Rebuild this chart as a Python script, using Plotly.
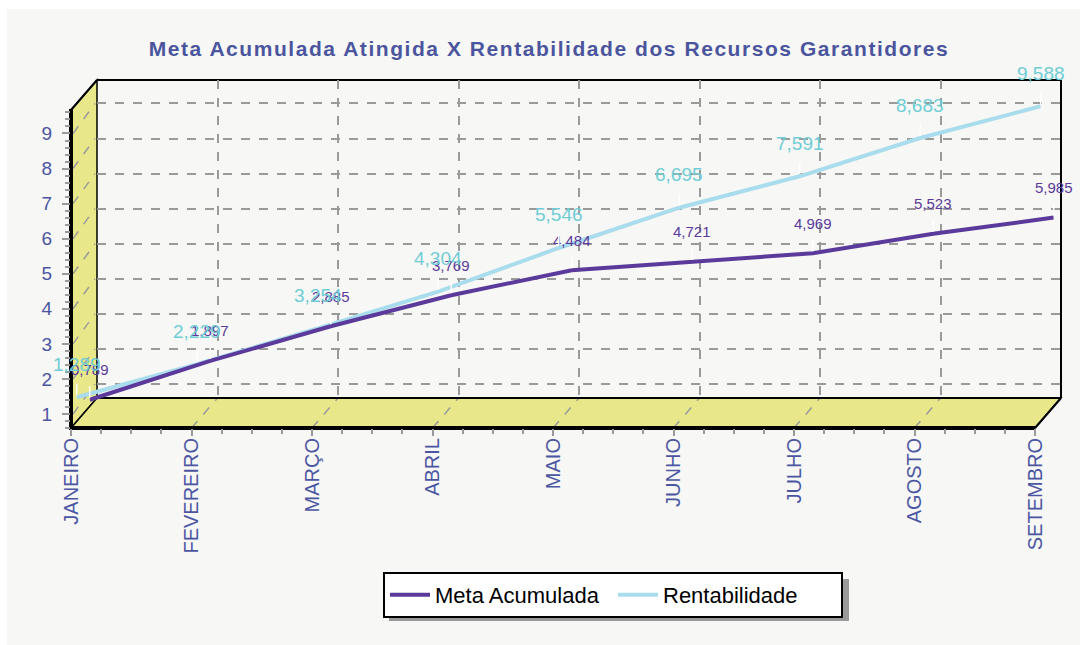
import plotly.graph_objects as go

months = ["JANEIRO", "FEVEREIRO", "MARÇO", "ABRIL", "MAIO", "JUNHO", "JULHO", "AGOSTO", "SETEMBRO"]
meta_acumulada = [0.789, 1.897, 2.885, 3.769, 4.484, 4.721, 4.969, 5.523, 5.985]
rentabilidade = [1.289, 2.229, 3.254, 4.304, 5.546, 6.695, 7.591, 8.683, 9.588]
y_ticks = [1, 2, 3, 4, 5, 6, 7, 8, 9]

W, H = 1080, 645
FONT = "Liberation Sans, Arial, sans-serif"
AXCOL = "#4b56a2"
PURPLE = "#5b3a9b"
LBLUE = "#a9dcec"
LBLUE_TXT = "#6fcdd6"
YELLOW = "#e8e88b"
PANEL = "#f7f7f5"

# front plane (pixels)
FX0, FX1, FY0, FY1 = 71, 1035, 110, 428
DX, DY = 26, -30  # depth offset to back plane
YMIN, YMAX = 0.6, 9.67


def px(x):
    return x / W


def py(y):
    return 1 - y / H


def dom(depth):
    return dict(
        x=[px(FX0 + DX * depth), px(FX1 + DX * depth)],
        y=[py(FY1 + DY * depth), py(FY0 + DY * depth)],
    )


def yf(v):
    return FY1 - (v - YMIN) / (YMAX - YMIN) * (FY1 - FY0)


def xf(k):
    return FX0 + k / 8 * (FX1 - FX0)


fig = go.Figure()

# invisible traces to anchor axes
fig.add_trace(go.Scatter(x=[0, 8], y=[1, 9], xaxis="x", yaxis="y", mode="markers",
                         marker=dict(opacity=0), hoverinfo="skip", showlegend=False))
fig.add_trace(go.Scatter(x=[0, 8], y=[1, 9], xaxis="x2", yaxis="y2", mode="markers",
                         marker=dict(opacity=0), hoverinfo="skip", showlegend=False))

fig.add_trace(go.Scatter(x=months, y=meta_acumulada, xaxis="x4", yaxis="y4", mode="lines",
                         line=dict(color=PURPLE, width=4), name="Meta Acumulada", hoverinfo="skip"))
fig.add_trace(go.Scatter(x=months, y=rentabilidade, xaxis="x3", yaxis="y3", mode="lines",
                         line=dict(color=LBLUE, width=4), name="Rentabilidade", hoverinfo="skip"))

annotations = []
for m, v in zip(months, meta_acumulada):
    annotations.append(dict(x=m, y=v, xref="x4", yref="y4", text="", showarrow=True, ax=0, ay=-15,
                            arrowhead=0, arrowwidth=1.5, arrowcolor="white", standoff=2))
    annotations.append(dict(x=m, y=v, xref="x4", yref="y4", text=f"{v:.3f}".replace(".", ","),
                            showarrow=False, yshift=30, font=dict(family=FONT, size=15, color=PURPLE)))
for m, v in zip(months, rentabilidade):
    annotations.append(dict(x=m, y=v, xref="x3", yref="y3", text="", showarrow=True, ax=0, ay=-15,
                            arrowhead=0, arrowwidth=1.5, arrowcolor="white", standoff=2))
    annotations.append(dict(x=m, y=v, xref="x3", yref="y3", text=f"{v:.3f}".replace(".", ","),
                            showarrow=False, yshift=33, font=dict(family=FONT, size=19, color=LBLUE_TXT)))

shapes = []
# panel background
shapes.append(dict(type="rect", xref="paper", yref="paper", x0=px(7), x1=1, y0=0, y1=py(9),
                   fillcolor=PANEL, line=dict(width=0), layer="below"))


def path(pts):
    return "M " + " L ".join(f"{px(a)},{py(b)}" for a, b in pts) + " Z"


# left wall
shapes.append(dict(type="path", xref="paper", yref="paper",
                   path=path([(FX0, FY0), (FX0 + DX, FY0 + DY), (FX0 + DX, FY1 + DY), (FX0, FY1)]),
                   fillcolor=YELLOW, line=dict(color="black", width=1.5), layer="below"))
# floor
shapes.append(dict(type="path", xref="paper", yref="paper",
                   path=path([(FX0, FY1), (FX0 + DX, FY1 + DY), (FX1 + DX, FY1 + DY), (FX1, FY1)]),
                   fillcolor=YELLOW, line=dict(color="black", width=1.5), layer="below"))


def seg(x0, y0, x1, y1, color="black", width=2, dash="solid"):
    shapes.append(dict(type="line", xref="paper", yref="paper", x0=px(x0), y0=py(y0), x1=px(x1), y1=py(y1),
                       line=dict(color=color, width=width, dash=dash), layer="below"))


# dashed diagonals on wall and floor
for v in y_ticks:
    seg(FX0 + 2, yf(v), FX0 + DX - 2, yf(v) + DY, color="#9a9a9a", width=1.5, dash="dash")
for k in range(1, 9):
    seg(xf(k), FY1, xf(k) + DX, FY1 + DY, color="#9a9a9a", width=1.5, dash="dash")

# edges
seg(FX0 + DX, FY0 + DY, FX1 + DX, FY0 + DY, width=2)   # back top
seg(FX1 + DX, FY0 + DY, FX1 + DX, FY1 + DY, width=2)   # back right
seg(FX0 + DX, FY1 + DY, FX1 + DX, FY1 + DY, width=2)   # floor back edge
seg(FX1, FY1, FX1 + DX, FY1 + DY, width=2)             # floor right diagonal
seg(FX0, FY0, FX0 + DX, FY0 + DY, width=2)             # wall top diagonal
seg(FX0, FY0 - 1, FX0, FY1 + 2, width=4)               # wall front edge
seg(FX0 - 1, FY1, FX1, FY1, width=4)                   # floor front edge

# legend shadow
shapes.append(dict(type="rect", xref="paper", yref="paper", x0=px(389), x1=px(849), y0=py(621), y1=py(579),
                   fillcolor="#9a9a9a", line=dict(width=0), layer="below"))

axis_common = dict(showline=False, zeroline=False, automargin=False)
d_back, d_front, d_blue, d_purple = dom(1), dom(0), dom(0.22), dom(0.72)

title_txt = "<span style='letter-spacing:1.55px'>Meta Acumulada Atingida X Rentabilidade dos Recursos Garantidores</span>"

fig.update_layout(
    width=W, height=H, autosize=False,
    margin=dict(l=0, r=0, t=0, b=0, pad=0, autoexpand=False),
    paper_bgcolor="white", plot_bgcolor="rgba(0,0,0,0)",
    font=dict(family=FONT),
    title=dict(text=title_txt,
               x=px(549), y=py(49), xanchor="center", yanchor="middle",
               font=dict(family=FONT, size=21, color="#4a559e", weight="bold")),
    xaxis=dict(domain=d_back["x"], range=[0, 8], dtick=1, showgrid=True, gridcolor="#9a9a9a",
               griddash="dash", gridwidth=1.5, showticklabels=False, ticks="", anchor="y", **axis_common),
    yaxis=dict(domain=d_back["y"], range=[YMIN, YMAX], tick0=1, dtick=1, showgrid=True, gridcolor="#9a9a9a",
               griddash="dash", gridwidth=1.5, showticklabels=False, ticks="", anchor="x", **axis_common),
    xaxis2=dict(domain=d_front["x"], range=[0, 8], tickvals=list(range(len(months))), ticktext=months,
                tickangle=-90, ticks="outside", ticklen=7, tickwidth=1.5, tickcolor="#9a9a9a",
                ticklabelstandoff=-6,
                minor=dict(dtick=0.25, ticks="outside", ticklen=5, tickcolor="#9a9a9a", tickwidth=1.5),
                showgrid=False, anchor="y2", tickfont=dict(family=FONT, size=20, color=AXCOL), **axis_common),
    yaxis2=dict(domain=d_front["y"], range=[YMIN, YMAX], tickvals=y_ticks, ticks="outside", ticklen=8,
                tickwidth=1.5, tickcolor="#9a9a9a", ticklabelstandoff=6,
                minor=dict(dtick=0.2, tick0=0, ticks="outside", ticklen=5, tickcolor="#9a9a9a", tickwidth=1.5),
                showgrid=False, anchor="x2", tickfont=dict(family=FONT, size=19, color=AXCOL), **axis_common),
    xaxis3=dict(domain=d_blue["x"], range=[0, 8], type="category", categoryarray=months, visible=False,
                anchor="y3", automargin=False),
    yaxis3=dict(domain=d_blue["y"], range=[YMIN, YMAX], visible=False, anchor="x3", automargin=False),
    xaxis4=dict(domain=d_purple["x"], range=[0, 8], type="category", categoryarray=months, visible=False,
                anchor="y4", automargin=False),
    yaxis4=dict(domain=d_purple["y"], range=[YMIN, YMAX], visible=False, anchor="x4", automargin=False),
    legend=dict(orientation="h", x=px(383), y=py(595), xanchor="left", yanchor="middle",
                bgcolor="white", bordercolor="black", borderwidth=2,
                entrywidth=173, entrywidthmode="pixels",
                font=dict(family=FONT, size=22, color="black"), itemwidth=40, tracegroupgap=0),
    shapes=shapes,
    annotations=annotations,
    hovermode=False,
)

fig.write_html("out.html", config={"displayModeBar": False},
               post_script="document.body.style.margin='0';document.body.style.overflow='hidden';")
